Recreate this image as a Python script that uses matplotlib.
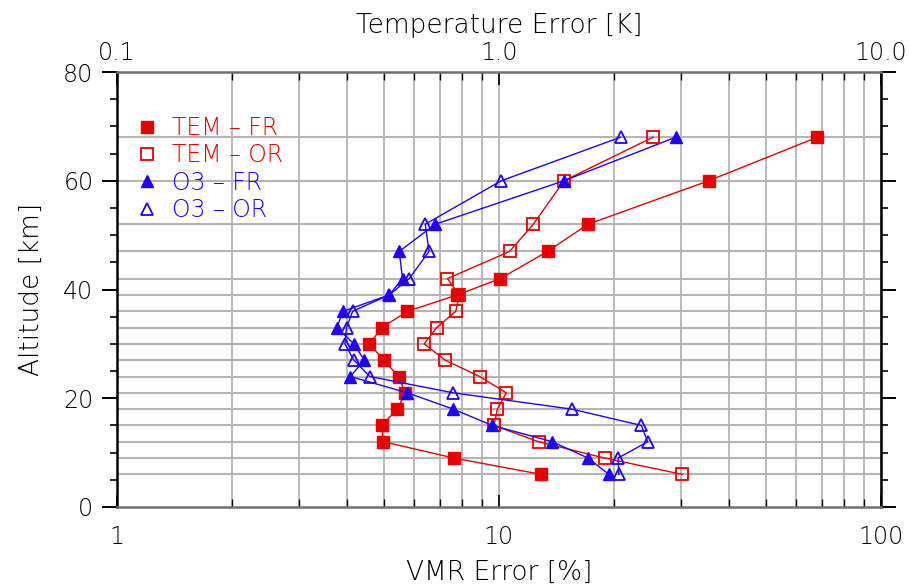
import matplotlib
matplotlib.use("Agg")
import matplotlib.pyplot as plt
from matplotlib.lines import Line2D
from matplotlib.ticker import FixedLocator, LogLocator, NullFormatter, FixedFormatter

# ---------------- data ----------------
altitude = [6, 9, 12, 15, 18, 21, 24, 27, 30, 33, 36, 39, 42, 47, 52, 60, 68]

# Temperature errors [K] (top axis)
tem_fr = [1.29, 0.763, 0.498, 0.493, 0.542, 0.568, 0.546, 0.499, 0.458, 0.494,
          0.576, 0.778, 1.007, 1.34, 1.71, 3.54, 6.81]
tem_or = [3.02, 1.89, 1.27, 0.970, 0.990, 1.045, 0.890, 0.723, 0.637, 0.687,
          0.771, 0.786, 0.733, 1.066, 1.23, 1.48, 2.53]

# O3 VMR errors [%] (bottom axis)
o3_fr = [19.4, 17.1, 13.8, 9.61, 7.59, 5.76, 4.08, 4.44, 4.17, 3.76,
         3.91, 5.16, 5.59, 5.48, 6.81, 14.8, 29.0]
o3_or = [20.6, 20.5, 24.5, 23.6, 15.5, 7.59, 4.59, 4.17, 3.95, 3.99,
         4.14, 5.16, 5.82, 6.56, 6.41, 10.14, 20.8]

series_labels = ["TEM \u2013 FR", "TEM \u2013 OR", "O3 \u2013 FR", "O3 \u2013 OR"]
bottom_ticks = [1, 10, 100]
bottom_ticklabels = ["1", "10", "100"]
top_ticks = [0.1, 1.0, 10.0]
top_ticklabels = ["0.1", "1.0", "10.0"]
y_ticks = [0, 20, 40, 60, 80]

# ---------------- style ----------------
plt.rcParams['font.family'] = ['DejaVu Sans']
plt.rcParams['font.weight'] = 200
plt.rcParams['axes.labelweight'] = 200
RED = '#e60000'
BLUE = '#2200ff'
GRID = '#b4b4b4'
FS_TICK = 17
FS_LAB = 19
FS_LEG = 17

fig = plt.figure(figsize=(9.09, 5.88), dpi=100)
ax = fig.add_axes([117/909, 1-507/588, 764/909, 435/588])
ax2 = ax.twiny()
ax2.set_zorder(0)
ax.set_zorder(1)
ax.patch.set_visible(False)

ax.set_xscale('log')
ax.set_xlim(1, 100)
ax.set_ylim(0, 80)
ax2.set_xscale('log')
ax2.set_xlim(0.1, 10)

# grid (on lower axes)
ax2.grid(True, which='both', axis='x', color=GRID, lw=1.3)
for a in altitude:
    ax2.axhline(a, color=GRID, lw=1.5, zorder=0.5)

ms = 8
lw = 1.0
# TEM on top axis
ax2.plot(tem_or, altitude, color=RED, lw=lw, marker='s', ms=ms, mfc='none', mec=RED, mew=1.3, zorder=3)
ax2.plot(tem_fr, altitude, color=RED, lw=lw, marker='s', ms=ms, mfc=RED, mec=RED, zorder=3)
# O3 on bottom axis
ax.plot(o3_or, altitude, color=BLUE, lw=lw, marker='^', ms=ms, mfc='none', mec=BLUE, mew=1.3, zorder=3)
ax.plot(o3_fr, altitude, color=BLUE, lw=lw, marker='^', ms=ms, mfc=BLUE, mec=BLUE, zorder=3)

# ticks
ax.xaxis.set_major_locator(FixedLocator(bottom_ticks))
ax.xaxis.set_major_formatter(FixedFormatter(bottom_ticklabels))
ax.xaxis.set_minor_locator(LogLocator(base=10, subs=range(2, 10)))
ax.xaxis.set_minor_formatter(NullFormatter())
ax2.xaxis.set_major_locator(FixedLocator(top_ticks))
ax2.xaxis.set_major_formatter(FixedFormatter(top_ticklabels))
ax2.xaxis.set_minor_locator(LogLocator(base=10, subs=range(2, 10)))
ax2.xaxis.set_minor_formatter(NullFormatter())

ax.set_yticks(y_ticks)
ax.set_yticks(range(0, 81, 5), minor=True)

ax.tick_params(axis='x', which='both', direction='in', top=False, bottom=True,
               color='black', labelsize=FS_TICK, pad=13)
ax.tick_params(axis='x', which='major', length=9, width=1.2)
ax.tick_params(axis='x', which='minor', length=6, width=1.0)
ax2.tick_params(axis='x', which='both', direction='in', labelsize=FS_TICK, pad=5, color='black')
ax2.tick_params(axis='x', which='major', length=9, width=1.2)
ax2.tick_params(axis='x', which='minor', length=6, width=1.0)
ax.tick_params(axis='y', which='both', direction='out', left=True, right=True,
               labelleft=True, labelright=False, labelsize=FS_TICK, color='black')
ax.tick_params(axis='y', which='major', length=11, width=1.4, pad=6)
ax.tick_params(axis='y', which='minor', length=5, width=1.2)

for s in ax2.spines.values():
    s.set_visible(False)
ax.spines['left'].set_color('black')
ax.spines['right'].set_color('black')
ax.spines['top'].set_color('#707070')
ax.spines['bottom'].set_color('#707070')
for s in ax.spines.values():
    s.set_linewidth(1.8)

ax.set_xlabel("VMR Error [%]", fontsize=FS_LAB, labelpad=8)
ax2.set_xlabel("Temperature Error [K]", fontsize=FS_LAB, labelpad=6)
ax.set_ylabel("Altitude [km]", fontsize=FS_LAB, labelpad=14)

handles = [
    Line2D([], [], ls='none', marker='s', ms=ms, mfc=RED, mec=RED),
    Line2D([], [], ls='none', marker='s', ms=ms, mfc='none', mec=RED, mew=1.3),
    Line2D([], [], ls='none', marker='^', ms=ms, mfc=BLUE, mec=BLUE),
    Line2D([], [], ls='none', marker='^', ms=ms, mfc='none', mec=BLUE, mew=1.3),
]
leg = ax.legend(handles, series_labels, loc='upper left', bbox_to_anchor=(0.024, 0.899),
                borderaxespad=0, borderpad=0,
                frameon=False, fontsize=FS_LEG, handlelength=1.0, handletextpad=0.55,
                labelspacing=0.14, labelcolor=[RED, RED, BLUE, BLUE])

fig.savefig("out.png", dpi=100)
